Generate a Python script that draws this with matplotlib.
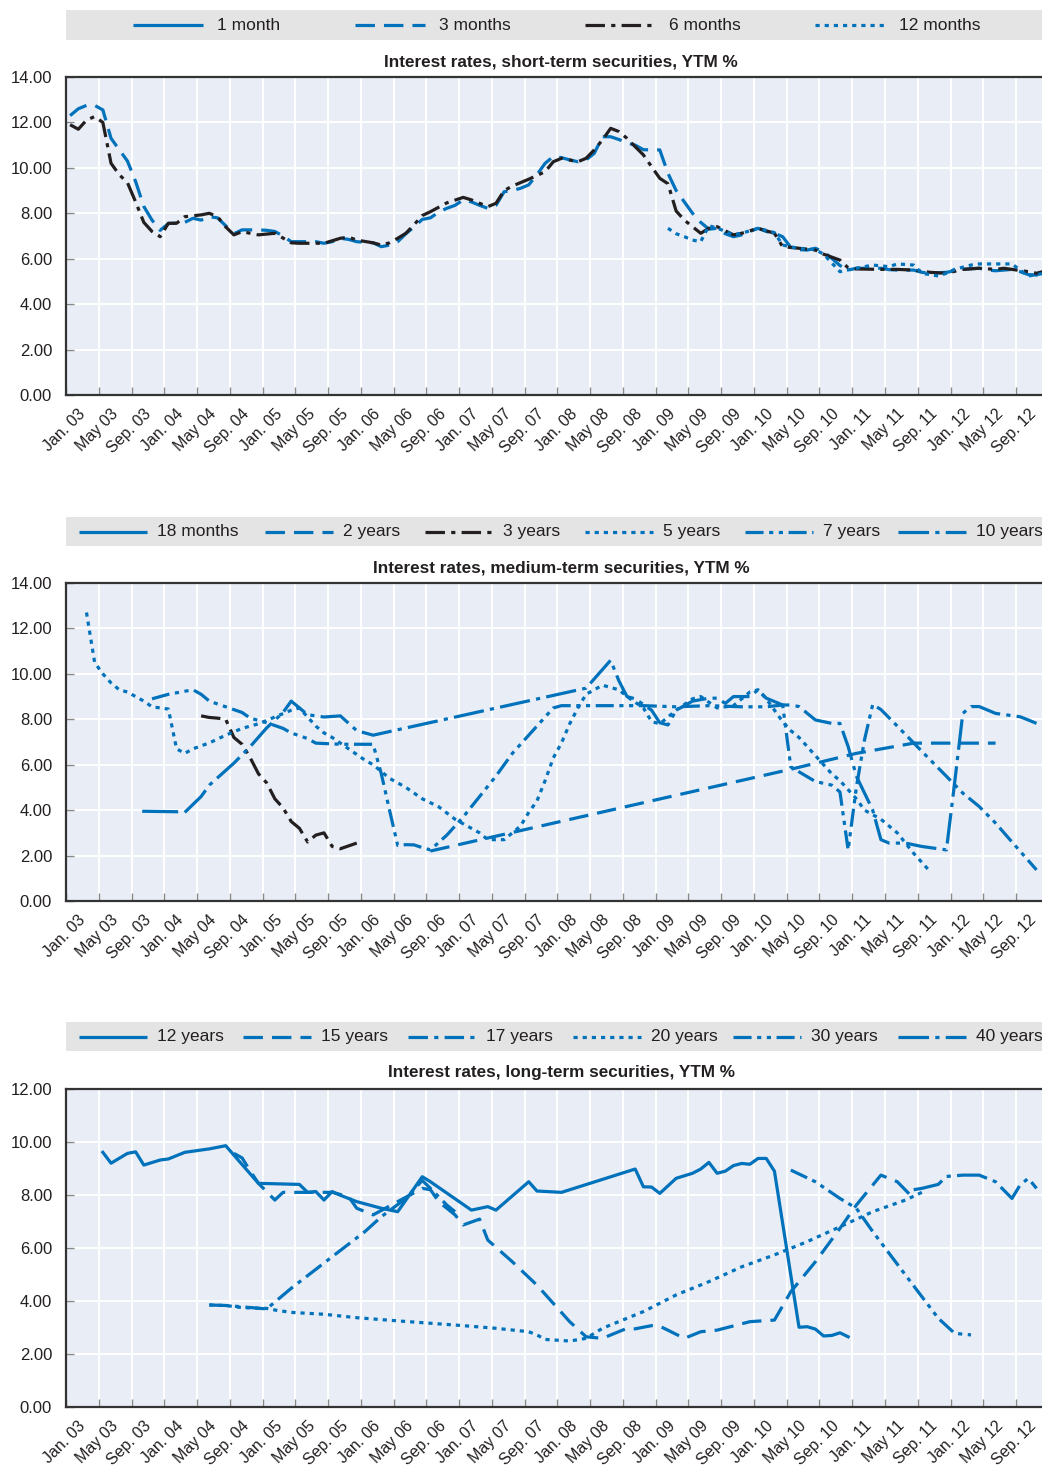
import matplotlib
matplotlib.use("Agg")
import matplotlib.pyplot as plt
from matplotlib.lines import Line2D
from matplotlib.patches import Rectangle
import numpy as np

plt.rcParams['font.family'] = ['Liberation Sans', 'DejaVu Sans']
plt.rcParams['lines.scale_dashes'] = False

W, H = 1042, 1470
BLUE = '#0071bb'
BLACK = '#231f20'
BG = '#e8edf6'
LEG_BG = '#e4e4e4'

# x categories: months counted from Jan. 03 (0) ; labels every 4 months
tick_labels = ['Jan. 03', 'May 03', 'Sep. 03', 'Jan. 04', 'May 04', 'Sep. 04',
               'Jan. 05', 'May 05', 'Sep. 05', 'Jan. 06', 'May 06', 'Sep. 06',
               'Jan. 07', 'May 07', 'Sep. 07', 'Jan. 08', 'May 08', 'Sep. 08',
               'Jan. 09', 'May 09', 'Sep. 09', 'Jan. 10', 'May 10', 'Sep. 10',
               'Jan. 11', 'May 11', 'Sep. 11', 'Jan. 12', 'May 12', 'Sep. 12']

# ---- short-term securities ----
m3_m = list(range(0, 120))
m3_v = [12.3, 12.6, 12.75, 12.75, 12.55, 11.3, 10.8, 10.3, 9.4, 8.3,
        7.7, 7.25, 7.55, 7.57, 7.6, 7.78, 7.7, 7.85, 7.8, 7.45,
        7.1, 7.27, 7.27, 7.27, 7.25, 7.2, 7.0, 6.75, 6.75, 6.75,
        6.75, 6.68, 6.75, 6.9, 6.85, 6.75, 6.72, 6.7, 6.53, 6.6,
        6.75, 7.1, 7.4, 7.73, 7.8, 8.05, 8.22, 8.35, 8.59, 8.5,
        8.35, 8.22, 8.35, 8.95, 9.0, 9.1, 9.25, 9.7, 10.2, 10.5,
        10.45, 10.35, 10.27, 10.35, 10.64, 11.37, 11.37, 11.25, 11.1, 11.0,
        10.8, 10.79, 10.79, 9.76, 9.0, 8.5, 8.0, 7.6, 7.3, 7.34,
        7.1, 6.97, 7.05, 7.2, 7.34, 7.2, 7.12, 6.97, 6.5, 6.4,
        6.38, 6.46, 6.3, 6.02, 5.7, 5.5, 5.58, 5.58, 5.58, 5.58,
        5.52, 5.5, 5.5, 5.5, 5.4, 5.36, 5.38, 5.4, 5.47, 5.53,
        5.56, 5.58, 5.5, 5.47, 5.5, 5.53, 5.43, 5.3, 5.28, 5.43]

m6_m = [0, 1, 2, 3, 4, 5, 6, 7, 8, 9, 10, 11, 12, 13, 14, 16, 17, 18, 19, 20,
        21, 23, 25, 27, 28, 31, 33, 34, 35, 37, 38, 39, 40, 41, 42, 43, 44, 46, 48, 49,
        51, 52, 53, 54, 56, 58, 59, 60, 62, 63, 64, 65, 66, 67, 68, 69, 70, 71, 72, 73,
        74, 75, 76, 77, 78, 79, 81, 82, 84, 86, 87, 89, 91, 92, 94, 95, 96, 99, 101, 103,
        105, 107, 109, 111, 113, 114, 117, 118, 119]
m6_v = [11.9, 11.7, 12.1, 12.26, 12.0, 10.2, 9.7, 9.35, 8.5, 7.6, 7.2, 6.97, 7.56, 7.56, 7.85, 7.93, 8.0, 7.85, 7.4, 7.05,
        7.19, 7.05, 7.12, 6.7, 6.68, 6.68, 6.9, 6.95, 6.82, 6.7, 6.6, 6.7, 6.9, 7.12, 7.5, 7.9, 8.07, 8.46, 8.7, 8.59,
        8.29, 8.44, 9.0, 9.2, 9.5, 9.83, 10.27, 10.42, 10.27, 10.42, 10.79, 11.23, 11.74, 11.6, 11.3, 10.93, 10.57, 10.05, 9.54, 9.3,
        8.1, 7.7, 7.41, 7.12, 7.34, 7.41, 7.05, 7.12, 7.34, 7.12, 6.53, 6.46, 6.38, 6.2, 5.94, 5.6, 5.55, 5.53, 5.53, 5.5,
        5.4, 5.36, 5.53, 5.58, 5.53, 5.58, 5.43, 5.36, 5.45]

m12_m = [73, 74, 75, 76, 77, 78, 79, 81, 82, 84, 86, 87, 89, 91, 92, 94, 96, 98, 100, 101,
         103, 104, 106, 107, 108, 110, 111, 113, 115, 116, 117, 119]
m12_v = [7.34, 7.1, 6.97, 6.82, 6.75, 7.45, 7.35, 7.05, 7.12, 7.34, 7.15, 6.6, 6.45, 6.4, 6.2, 5.43, 5.58, 5.72, 5.65, 5.77,
         5.72, 5.36, 5.24, 5.36, 5.53, 5.72, 5.77, 5.77, 5.77, 5.5, 5.24, 5.36]

# ---- medium-term securities ----
y18_m = [9, 13]
y18_v = [3.95, 3.93]

y2_m = [44, 88, 96, 103, 113]
y2_v = [2.2, 5.8, 6.5, 6.95, 6.95]

y3_m = [16, 17, 18, 19, 20, 21, 22, 23, 24, 25, 26, 27, 28, 29, 30, 31, 32, 33, 35]
y3_v = [8.15, 8.08, 8.05, 8.0, 7.2, 6.9, 6.3, 5.6, 5.2, 4.5, 4.1, 3.5, 3.2, 2.6, 2.9, 3.0, 2.4, 2.3, 2.55]

y5_m = [2, 3, 4, 5, 6, 7, 8, 9, 10, 11, 12, 13, 14, 15, 17, 19, 21, 23, 25, 27,
        28, 30, 31, 32, 34, 36, 37, 39, 41, 43, 45, 47, 49, 50, 51, 53, 55, 56, 57, 58,
        59, 60, 61, 62, 63, 65, 67, 68, 70, 71, 72, 74, 76, 77, 79, 81, 83, 84, 85, 86,
        87, 88, 89, 90, 91, 93, 94, 96, 97, 99, 100, 101, 103, 104, 105]
y5_v = [12.7, 10.5, 10.0, 9.6, 9.3, 9.2, 9.0, 8.8, 8.55, 8.5, 8.45, 6.7, 6.5, 6.7, 6.96, 7.3, 7.6, 7.8, 8.1, 8.4,
        8.5, 7.7, 7.4, 7.2, 6.7, 6.2, 6.0, 5.4, 5.0, 4.5, 4.15, 3.6, 3.2, 3.0, 2.7, 2.7, 3.3, 3.9, 4.4, 5.3,
        6.3, 6.96, 7.8, 8.5, 9.1, 9.5, 9.3, 9.0, 8.5, 7.9, 7.8, 8.4, 8.9, 9.0, 8.5, 8.6, 9.2, 9.3, 8.9, 8.4,
        7.9, 7.5, 7.2, 6.8, 6.4, 5.6, 5.3, 4.5, 4.0, 3.6, 3.3, 3.0, 2.1, 1.7, 1.3]

y7_m = [10, 12, 15, 16, 17, 19, 21, 22, 24, 26, 27, 29, 30, 33, 36, 37, 38, 39, 40, 41,
        42, 43, 44, 46, 48, 50, 52, 54, 57, 59, 60, 63, 66, 70, 74, 78, 82, 85, 87, 88,
        91, 93, 94, 95, 96, 97, 98, 99, 101, 103, 105, 107, 109, 111, 113, 115, 118]
y7_v = [8.9, 9.1, 9.3, 9.1, 8.8, 8.55, 8.3, 8.05, 7.85, 7.6, 7.4, 7.15, 6.95, 6.9, 6.9, 6.9, 5.6, 4.0, 2.45, 2.48,
        2.47, 2.35, 2.25, 2.9, 3.7, 4.6, 5.5, 6.5, 7.7, 8.5, 8.6, 8.6, 8.6, 8.6, 8.55, 8.6, 8.55, 8.55, 8.63, 5.9,
        5.26, 5.1, 4.8, 2.25, 5.0, 7.1, 8.65, 8.43, 7.7, 6.96, 6.22, 5.49, 4.75, 4.16, 3.43, 2.6, 1.37]

y10_m = [14, 16, 17, 20, 22, 24, 26, 27, 29, 31, 33, 35, 37, 63, 66, 67, 68, 69, 71, 72,
         73, 74, 76, 78, 79, 80, 81, 83, 84, 85, 87, 88, 89, 91, 93, 94, 95, 96, 98, 99,
         100, 102, 104, 107, 108, 109, 110, 111, 113, 116, 117, 118]
y10_v = [3.9, 4.6, 5.1, 6.07, 6.8, 7.62, 8.3, 8.8, 8.2, 8.1, 8.15, 7.5, 7.3, 9.37, 10.6, 9.7, 9.0, 8.9, 8.4, 7.85,
         7.75, 8.4, 8.8, 8.93, 8.93, 8.7, 9.0, 9.0, 9.3, 8.93, 8.63, 8.63, 8.56, 7.97, 7.82, 7.82, 6.8, 5.5, 4.0, 2.7,
         2.55, 2.55, 2.4, 2.25, 5.2, 8.26, 8.56, 8.56, 8.26, 8.11, 7.97, 7.82]

# ---- long-term securities ----
y12_m = [4, 5, 7, 8, 9, 11, 12, 14, 17, 19, 23, 28, 29, 30, 31, 32, 33, 35, 38, 40,
         41, 43, 44, 49, 51, 52, 56, 57, 60, 69, 70, 71, 72, 74, 76, 77, 78, 79, 80, 81,
         82, 83, 84, 85, 86, 89, 90, 91, 92, 93, 94, 95]
y12_v = [9.61, 9.2, 9.57, 9.63, 9.13, 9.32, 9.36, 9.61, 9.74, 9.86, 8.44, 8.4, 8.1, 8.13, 7.81, 8.13, 7.99, 7.75, 7.5, 7.37,
         7.81, 8.69, 8.5, 7.43, 7.56, 7.43, 8.5, 8.15, 8.1, 8.98, 8.31, 8.3, 8.06, 8.63, 8.82, 8.98, 9.23, 8.82, 8.9, 9.11,
         9.19, 9.16, 9.38, 9.38, 8.9, 3.01, 3.03, 2.94, 2.68, 2.7, 2.8, 2.65]

y15_m = [20, 21, 22, 23, 25, 26, 30, 32, 34, 35, 37, 40, 43, 44, 45, 47, 48, 50, 51, 54,
         57, 59, 61, 63, 65, 68, 69, 71, 72, 75, 77, 79, 83, 86, 88, 91, 94, 96, 99, 101, 103]
y15_v = [9.57, 9.4, 8.9, 8.44, 7.81, 8.1, 8.1, 8.1, 7.94, 7.5, 7.25, 7.75, 8.25, 8.2, 7.75, 7.25, 6.87, 7.09, 6.3, 5.48,
         4.6, 3.91, 3.22, 2.65, 2.59, 2.97, 2.95, 3.07, 3.05, 2.59, 2.84, 2.9, 3.22, 3.28, 4.35, 5.48, 6.74, 7.62, 8.75, 8.5, 7.87]

y17_m = [17, 19, 21, 24, 27, 32, 36, 38, 41, 43, 44, 46, 47]
y17_v = [3.85, 3.83, 3.78, 3.7, 4.48, 5.67, 6.62, 7.18, 7.87, 8.55, 8.25, 7.62, 7.37]

y20_m = [17, 19, 21, 24, 25, 27, 31, 35, 40, 44, 48, 52, 56, 57, 58, 61, 63, 65, 70, 74,
         78, 82, 86, 90, 94, 98, 102, 104]
y20_v = [3.85, 3.83, 3.75, 3.72, 3.66, 3.57, 3.5, 3.37, 3.25, 3.16, 3.07, 2.97, 2.84, 2.72, 2.55, 2.49, 2.59, 2.97, 3.6, 4.23,
         4.73, 5.29, 5.74, 6.24, 6.8, 7.37, 7.81, 8.1]

y30_m = [88, 91, 94, 96, 98, 102, 106, 108, 110]
y30_v = [8.94, 8.5, 7.87, 7.5, 6.62, 4.98, 3.35, 2.78, 2.72]

y40_m = [103, 104, 106, 107, 109, 111, 113, 115, 116, 117, 118]
y40_v = [8.2, 8.25, 8.4, 8.7, 8.75, 8.75, 8.5, 7.87, 8.38, 8.63, 8.25]

# line styles (points)
SOLID = '-'
DASH = (0, (14, 6.5))
DASHDOT = (0, (14, 4.5, 3, 4.5))
DOT = (0, (3, 3.6))
DASHDOTDOT = (0, (13, 4, 3, 4, 3, 4))
LONGDASHDOT = (0, (22, 4.5, 3, 4.5))
LW = 2.3

fig = plt.figure(figsize=(W / 100, H / 100), dpi=100)


def fx(px):
    return px / W


def fy(py):
    return 1 - py / H


def legend_box(y0, y1, entries, starts, hlen=70, gap=14):
    fig.patches.append(Rectangle((fx(66), fy(y1)), 1 - fx(66), fy(y0) - fy(y1),
                                 transform=fig.transFigure, facecolor=LEG_BG,
                                 edgecolor='none', zorder=0))
    yc = fy((y0 + y1) / 2)
    for (label, ls, col), x0 in zip(entries, starts):
        fig.lines.append(Line2D([fx(x0), fx(x0 + hlen)], [yc, yc], transform=fig.transFigure,
                                color=col, lw=LW, linestyle=ls, solid_capstyle='butt',
                                dash_capstyle='butt'))
        fig.text(fx(x0 + hlen + gap), yc, label, fontsize=12.5, va='center', ha='left',
                 color='#231f20')


def panel(top, bottom, ymax, title, title_y, series):
    ax = fig.add_axes([fx(66), fy(bottom), 1 - fx(66), fy(top) - fy(bottom)])
    ax.set_facecolor(BG)
    for m, v, ls, col in series:
        ax.plot(np.array(m) + 0.5, v, color=col, lw=LW, linestyle=ls,
                solid_joinstyle='round', dash_capstyle='butt', zorder=3)
    ax.set_xlim(0, (W - 66) / 8.19)
    ax.set_ylim(0, ymax)
    ax.set_xticks(np.arange(0, 117, 4))
    ax.set_xticklabels([])
    ax.set_xticks(np.arange(0, 117, 4) + 2.1, minor=True)
    ax.set_xticklabels(tick_labels, minor=True, rotation=45, ha='right', va='center',
                       rotation_mode='anchor', fontsize=11.5)
    ax.set_yticks(np.arange(0, ymax + 0.1, 2))
    ax.set_yticklabels([f'{t:.2f}' for t in np.arange(0, ymax + 0.1, 2)], fontsize=12)
    ax.tick_params(axis='x', which='major', direction='in', length=6, color='#888888', width=1)
    ax.tick_params(axis='x', which='minor', length=0, pad=12, colors='#231f20')
    ax.tick_params(axis='y', direction='in', length=6, color='#888888', width=1, pad=10,
                   labelcolor='#231f20')
    ax.grid(which='major', color='white', lw=1.4, zorder=0)
    ax.set_axisbelow(True)
    for s in ['left', 'top', 'bottom']:
        ax.spines[s].set_color('#333333')
        ax.spines[s].set_linewidth(1.6)
    ax.spines['right'].set_visible(False)
    fig.text(fx(561), fy(title_y), title, ha='center', va='center', fontsize=12.3,
             fontweight='bold', color='#231f20')
    return ax


legend_box(10, 40, [('1 month', SOLID, BLUE), ('3 months', DASH, BLUE),
                    ('6 months', DASHDOT, BLACK), ('12 months', DOT, BLUE)],
           [133, 355, 585, 815])
panel(77, 395, 14, 'Interest rates, short-term securities, YTM %', 62,
      [(m3_m, m3_v, DASH, BLUE), (m6_m, m6_v, DASHDOT, BLACK), (m12_m, m12_v, DOT, BLUE)])

legend_box(517, 546, [('18 months', SOLID, BLUE), ('2 years', DASH, BLUE),
                      ('3 years', DASHDOT, BLACK), ('5 years', DOT, BLUE),
                      ('7 years', DASHDOTDOT, BLUE), ('10 years', LONGDASHDOT, BLUE)],
           [79, 265, 425, 585, 745, 898], hlen=68, gap=10)
panel(583, 901, 14, 'Interest rates, medium-term securities, YTM %', 568,
      [(y18_m, y18_v, SOLID, BLUE), (y2_m, y2_v, DASH, BLUE), (y3_m, y3_v, DASHDOT, BLACK),
       (y5_m, y5_v, DOT, BLUE), (y7_m, y7_v, DASHDOTDOT, BLUE), (y10_m, y10_v, LONGDASHDOT, BLUE)])

legend_box(1022, 1051, [('12 years', SOLID, BLUE), ('15 years', DASH, BLUE),
                        ('17 years', DASHDOT, BLUE), ('20 years', DOT, BLUE),
                        ('30 years', DASHDOTDOT, BLUE), ('40 years', LONGDASHDOT, BLUE)],
           [79, 243, 408, 573, 733, 898], hlen=68, gap=10)
panel(1089, 1407, 12, 'Interest rates, long-term securities, YTM %', 1073,
      [(y12_m, y12_v, SOLID, BLUE), (y15_m, y15_v, DASH, BLUE), (y17_m, y17_v, DASHDOT, BLUE),
       (y20_m, y20_v, DOT, BLUE), (y30_m, y30_v, DASHDOTDOT, BLUE), (y40_m, y40_v, LONGDASHDOT, BLUE)])

fig.savefig('out.png', dpi=100)
